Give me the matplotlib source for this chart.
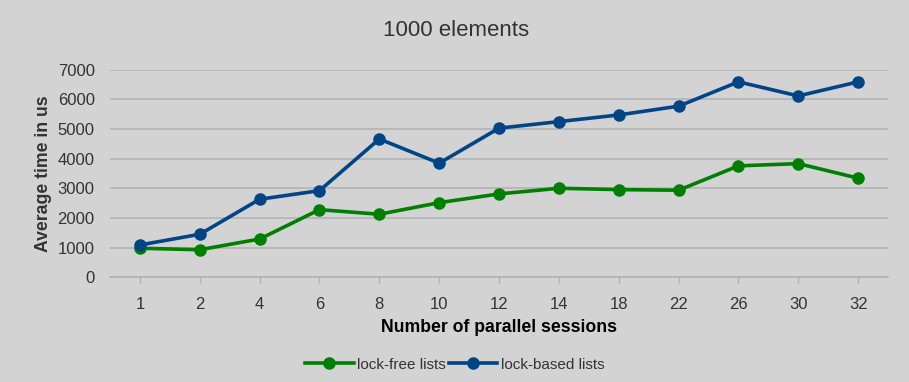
import matplotlib
matplotlib.use("Agg")
import matplotlib.pyplot as plt

categories = ["1", "2", "4", "6", "8", "10", "12", "14", "18", "22", "26", "30", "32"]
lock_free = [980, 930, 1290, 2280, 2125, 2515, 2810, 3000, 2955, 2935, 3755, 3830, 3340]
lock_based = [1090, 1450, 2630, 2920, 4660, 3845, 5025, 5245, 5470, 5765, 6585, 6110, 6585]
yticks = [0, 1000, 2000, 3000, 4000, 5000, 6000, 7000]

plt.rcParams['font.family'] = ['Liberation Sans', 'DejaVu Sans']
bg = '#d3d3d3'
fig = plt.figure(figsize=(9.09, 3.82), dpi=100, facecolor=bg)
ax = fig.add_axes([0.121, 0.274, 0.856, 0.544])
ax.set_facecolor(bg)

x = list(range(len(categories)))
l1, = ax.plot(x, lock_free, color='#008000', lw=2.6, marker='o', ms=8, label='lock-free lists')
l2, = ax.plot(x, lock_based, color='#004586', lw=2.6, marker='o', ms=8, label='lock-based lists')

ax.set_xlim(-0.5, len(categories) - 0.5)
ax.set_ylim(0, 7000)
ax.set_yticks(yticks)
ax.set_yticklabels([str(v) for v in yticks])
ax.set_xticks(x)
ax.set_xticklabels(categories)
ax.yaxis.grid(True, color='#b3b3b3', lw=1.2)
ax.set_axisbelow(True)
for s in ['top', 'right', 'left']:
    ax.spines[s].set_visible(False)
ax.spines['bottom'].set_color('#b3b3b3')
ax.spines['bottom'].set_linewidth(1.2)
ax.tick_params(axis='y', length=0, pad=11, labelsize=12, labelcolor='#333333')
ax.tick_params(axis='x', length=4, color='#b3b3b3', width=1, pad=10, labelsize=12, labelcolor='#333333')

ax.set_xlabel('Number of parallel sessions', fontsize=12.7, fontweight='bold', color='#000000', labelpad=5)
ax.set_ylabel('Average time in us', fontsize=12.7, fontweight='bold', color='#333333', labelpad=4)
fig.text(0.502, 0.92, '1000 elements', ha='center', va='center', fontsize=16, color='#333333')

fig.legend(handles=[l1, l2], loc='center', bbox_to_anchor=(0.5, 0.045), ncol=2, frameon=False,
           fontsize=11, labelcolor='#333333', handlelength=3.2, handletextpad=0.2, columnspacing=0.2)

fig.savefig('out.png', dpi=100, facecolor=bg)
